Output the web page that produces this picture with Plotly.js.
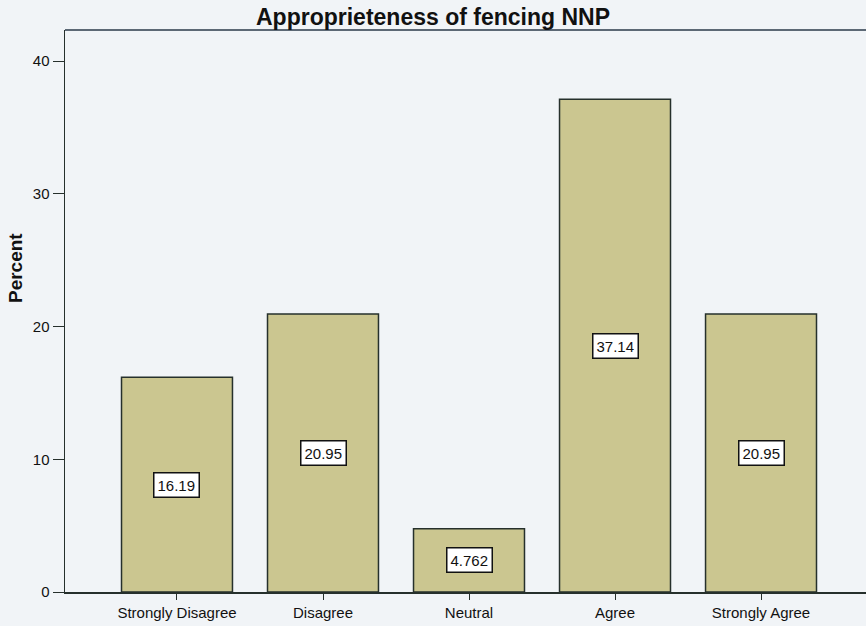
<!DOCTYPE html>
<html><head><meta charset="utf-8">
<script src="https://cdn.plot.ly/plotly-3.0.1.min.js"></script>
<style>html,body{margin:0;padding:0;background:#f1f4f7;overflow:hidden}</style>
</head><body>
<div id="chart" style="width:866px;height:626px"></div>
<script>
const categories = ["Strongly Disagree", "Disagree", "Neutral", "Agree", "Strongly Agree"];
const percents = [16.19, 20.95, 4.762, 37.14, 20.95];
const valueLabels = ["16.19", "20.95", "4.762", "37.14", "20.95"];
const yTicks = [0, 10, 20, 30, 40];

const FONT = "Liberation Sans, Arial, sans-serif";
const idx = categories.map((_, i) => i);
const trace = {
  type: "bar", x: idx, y: percents, width: 0.76,
  marker: {color: "#cbc690", line: {color: "#26302c", width: 1.5}},
  hoverinfo: "skip"
};
const annotations = idx.map(i => ({
  x: i, y: percents[i] / 2, xref: "x", yref: "y", text: valueLabels[i],
  showarrow: false, bgcolor: "#ffffff", bordercolor: "#111111", borderwidth: 1.5, borderpad: 3,
  font: {family: FONT, size: 15, color: "#111"}
}));
annotations.push({
  text: "<b>Percent</b>", xref: "paper", yref: "paper", x: -0.0624, y: 0.5765,
  xanchor: "center", yanchor: "middle", textangle: -90, showarrow: false,
  font: {family: FONT, size: 19, color: "#111"}
});
const layout = {
  width: 866, height: 626,
  margin: {l: 65, r: 0, t: 30, b: 34},
  paper_bgcolor: "#f1f4f7", plot_bgcolor: "#f1f4f7",
  showlegend: false,
  title: {text: "<b>Approprieteness of fencing NNP</b>", x: 0.5, xref: "container", y: 0.973, yref: "container", yanchor: "middle",
          font: {family: FONT, size: 23, color: "#111"}},
  xaxis: {range: [-0.767, 4.719], tickvals: idx, ticktext: categories, showgrid: false, zeroline: false,
          showline: true, linecolor: "#26302c", linewidth: 1.5, ticks: "outside", ticklen: 6, tickcolor: "#26302c",
          tickfont: {family: FONT, size: 15, color: "#111"}, fixedrange: true},
  yaxis: {range: [0, 42.35], tickvals: yTicks, ticktext: yTicks.map(String), showgrid: false, zeroline: false,
          showline: true, linecolor: "#26302c", linewidth: 1.5, ticks: "outside", ticklen: 11, tickcolor: "#26302c",
          tickfont: {family: FONT, size: 15, color: "#111"}},
  shapes: [{type: "line", xref: "paper", yref: "paper", x0: 0, x1: 1, y0: 1, y1: 1, line: {color: "#2a3a4a", width: 1.5}}],
  annotations: annotations
};
Plotly.newPlot("chart", [trace], layout, {displayModeBar: false, staticPlot: true});
</script>
</body></html>
